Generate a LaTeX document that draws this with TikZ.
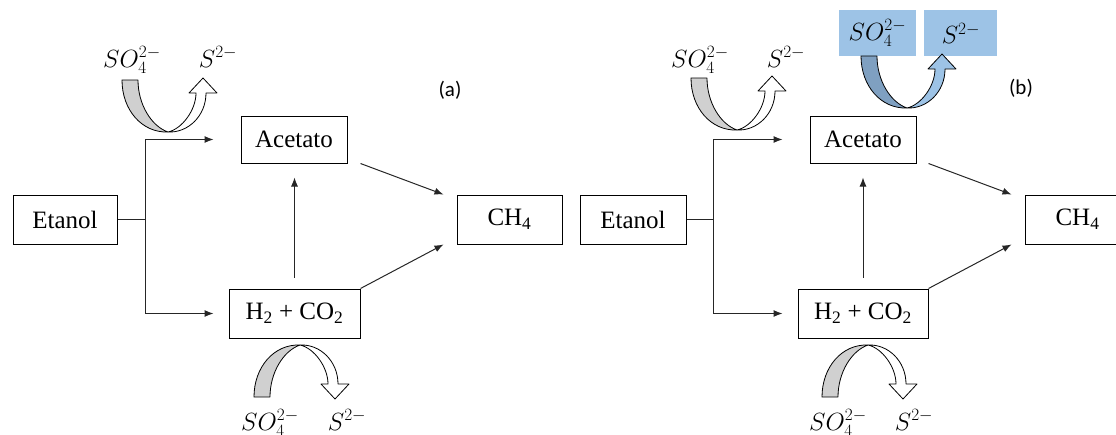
\documentclass[tikz,border=0pt]{standalone}
\usepackage{fontspec}
\setmainfont{Liberation Serif}
\newfontfamily\tagfont{Carlito}
\usetikzlibrary{arrows.meta,positioning}
\definecolor{backgray}{RGB}{208,208,208}
\definecolor{sulfblue}{RGB}{157,195,230}
\definecolor{sulfdark}{RGB}{127,160,193}
\tikzset{
  procbox/.style={rectangle,draw=black,line width=1pt,inner sep=0pt,minimum height=49pt,font=\fontsize{25}{30}\selectfont},
  ionlabel/.style={anchor=base,inner sep=0pt,font=\fontsize{26}{30}\selectfont},
  ionbox/.style={rectangle,fill=sulfblue,inner sep=0pt,minimum height=46pt,font=\fontsize{26}{30}\selectfont},
  tagnode/.style={inner sep=0pt,font=\tagfont\fontsize{21}{25}\selectfont},
  line/.style={line width=1pt,color=black!85},
  arr/.style={line,-{Latex[length=9pt,width=7pt]}},
  bendline/.style={draw=black,line width=0.8pt,line join=round}
}
% #1 placement, #2 back fill, #3 front fill
\newcommand{\bendarrow}[3]{%
  \begin{scope}[#1]
    \filldraw[bendline,fill=#3] (0,0) .. controls (14,-3) and (28,-22) .. (28,-39)
      -- (21,-39) -- (35,-54) -- (49,-39) -- (38,-39)
      .. controls (38,-16) and (20,1) .. (0,0) -- cycle;
    \filldraw[bendline,fill=#2] (-46,-52) .. controls (-46,-22) and (-26,1) .. (0,0)
      .. controls (-17,-6) and (-30,-28) .. (-30,-52) -- cycle;
  \end{scope}}

\begin{document}
\begin{tikzpicture}[x=1pt,y=-1pt]
  \useasboundingbox (0,0) rectangle (1116,434);

  %% PANEL (a)
  \node[procbox,minimum width=104pt] (etanolA) at (65,219.5) {Etanol};
  \node[procbox,minimum width=106pt,minimum height=47pt,right=123pt of etanolA,yshift=80pt]
    (acetatoA) {Acetato};
  \node[procbox,minimum width=131pt,right=111pt of etanolA,yshift=-94pt]
    (hcoA) {H\textsubscript{2} + CO\textsubscript{2}};
  \node[procbox,minimum width=105pt,right=109pt of acetatoA,yshift=-80pt]
    (ch4A) {CH\textsubscript{4}};
  \node[tagnode] (tagA) at (450,90) {(a)};

  \node[ionlabel] (so4topA) at (132,67) {$SO_4^{2-}$};
  \node[ionlabel] (stopA) at (218,67) {$S^{2-}$};
  \node[ionlabel] (so4botA) at (270,430) {$SO_4^{2-}$};
  \node[ionlabel] (sbotA) at (347,430) {$S^{2-}$};
  \bendarrow{shift={(168,132)}}{backgray}{white}
  \bendarrow{shift={(300,345)},yscale=-1}{backgray}{white}

  %% PANEL (b)
  \node[procbox,minimum width=106pt] (etanolB) at (633,219.5) {Etanol};
  \node[procbox,minimum width=106pt,minimum height=47pt,right=123pt of etanolB,yshift=80pt]
    (acetatoB) {Acetato};
  \node[procbox,minimum width=130pt,right=111pt of etanolB,yshift=-94pt]
    (hcoB) {H\textsubscript{2} + CO\textsubscript{2}};
  \node[procbox,minimum width=105pt,right=108pt of acetatoB,yshift=-80pt]
    (ch4B) {CH\textsubscript{4}};
  \node[tagnode] (tagB) at (1021,88) {(b)};

  \node[ionlabel] (so4topB) at (700,67) {$SO_4^{2-}$};
  \node[ionlabel] (stopB) at (786,67) {$S^{2-}$};
  \node[ionlabel] (so4botB) at (838,430) {$SO_4^{2-}$};
  \node[ionlabel] (sbotB) at (914,430) {$S^{2-}$};
  \node[ionbox,minimum width=77pt] (so4box) at (877.5,33) {$SO_4^{2-}$};
  \node[ionbox,minimum width=73pt,right=8pt of so4box] (sbox) {$S^{2-}$};
  \bendarrow{shift={(737,130)}}{backgray}{white}
  \bendarrow{shift={(868,345)},yscale=-1}{backgray}{white}
  \bendarrow{shift={(907,108)}}{sulfdark}{sulfblue}

  %% CONNECTIONS
  \draw[line] (etanolA.east) -- ++(28,0) coordinate (forkA);
  \draw[arr,shorten >=27pt] (forkA) |- (acetatoA.west);
  \draw[arr,shorten >=15pt] (forkA) |- (hcoA.west);
  \draw[arr,shorten <=11pt,shorten >=14pt] (hcoA.north) -- (hcoA.north |- acetatoA.south);
  \draw[arr] ([xshift=13pt]acetatoA.south east) -- ([xshift=-13pt]ch4A.north west);
  \draw[arr] (hcoA.north east) -- ([xshift=-13pt]ch4A.south west);

  \draw[line] (etanolB.east) -- ++(27,0) coordinate (forkB);
  \draw[arr,shorten >=27pt] (forkB) |- (acetatoB.west);
  \draw[arr,shorten >=15pt] (forkB) |- (hcoB.west);
  \draw[arr,shorten <=11pt,shorten >=14pt] (hcoB.north) -- (hcoB.north |- acetatoB.south);
  \draw[arr] ([xshift=12pt]acetatoB.south east) -- ([xshift=-13pt]ch4B.north west);
  \draw[arr] (hcoB.north east) -- ([xshift=-13pt]ch4B.south west);
\end{tikzpicture}
\end{document}
